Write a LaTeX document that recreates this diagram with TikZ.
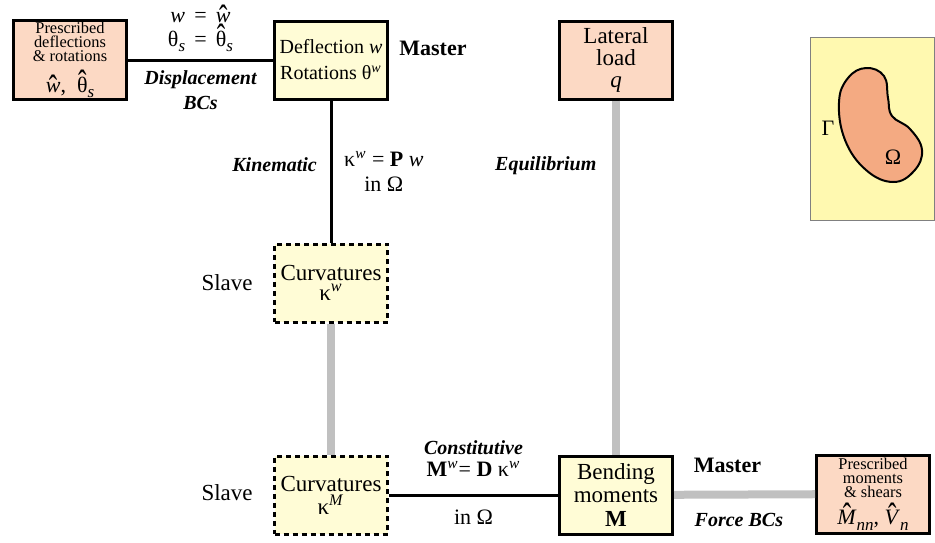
\documentclass[tikz,border=0pt]{standalone}
\usepackage{amsmath}
\usepackage{fontspec}
\setmainfont{Liberation Serif}
\newfontfamily\timesfont{Liberation Serif}
\usepackage{tikz}
\usetikzlibrary{positioning}
\definecolor{givenfill}{RGB}{252,217,196}
\definecolor{varfill}{RGB}{255,252,214}
\definecolor{panelfill}{RGB}{255,249,176}
\definecolor{blobfill}{RGB}{244,170,130}
\definecolor{linkgray}{RGB}{192,192,192}
\tikzstyle{strong}=[line width=1.5pt,color=black]
\tikzstyle{weak}=[line width=4pt,color=linkgray]
% chapeu alto por cima de uma letra
\newcommand{\hatted}[1]{\leavevmode\vbox{\offinterlineskip\halign{\hfil##\hfil\cr\scalebox{1.15}[1.6]{ˆ}\cr\noalign{\kern-0.8em}#1\cr}}}
\newcommand{\sub}[1]{\raisebox{-0.25em}{\fontsize{8.5}{8.5}\selectfont\textit{#1}}}

\begin{document}
\begin{tikzpicture}[x=0.5pt,y=-0.5pt]
    % caixas todas do mesmo tamanho
    \tikzstyle{given}=[draw,line width=1.5pt,fill=givenfill,minimum width=56.5pt,minimum height=39pt,align=center,inner sep=1pt,font=\timesfont\fontsize{8.2}{7}\selectfont]
    \tikzstyle{mastervar}=[draw,line width=1.5pt,fill=varfill,minimum width=56.5pt,minimum height=39pt,align=center,inner sep=1pt,font=\timesfont\fontsize{11.5}{11.5}\selectfont]
    \tikzstyle{slavevar}=[mastervar,dash pattern=on 2.5pt off 2pt]
    \tikzstyle{rel}=[text=black,font=\timesfont\fontsize{10}{12.5}\selectfont\bfseries\itshape,align=center]
    \tikzstyle{eqn}=[text=black,font=\timesfont\fontsize{11}{12.5}\selectfont,align=center]
    \tikzstyle{role}=[font=\timesfont\fontsize{11.5}{13}\selectfont,inner sep=0pt]
    \tikzstyle{rolebf}=[font=\timesfont\fontsize{11}{13}\selectfont\bfseries,inner sep=0pt]

    \useasboundingbox (0,0) rectangle (935,542);

    % caixas
    \node[given] (dispgiven) at (70,60) {Prescribed\\deflections\\\& rotations\\[3pt]{\fontsize{11}{11}\selectfont\hatted{\textit{w}},\ \ \hatted{θ}\sub{s}}};
    \node[mastervar,font=\timesfont\fontsize{10}{13}\selectfont] (defl) at (331,60) {Deflection \textit{w}\\Rotations θ\textsuperscript{\textit{w}}};
    \node[given,font=\timesfont\fontsize{11.5}{11}\selectfont] (load) at (616,60) {Lateral\\load\\\textit{q}};
    \node[slavevar,font=\timesfont\fontsize{11.5}{10}\selectfont] (curvw) at (331,283) {Curvatures\\κ\textsuperscript{\textit{w}}};
    \node[slavevar] (curvm) at (331,495) {Curvatures\\κ\textsuperscript{\textit{M}}};
    \node[mastervar,font=\timesfont\fontsize{11.5}{11.7}\selectfont] (bend) at (616,495) {Bending\\moments\\\textbf{M}};
    \node[given] (forcegiven) at (873,494) {Prescribed\\moments\\\& shears\\[2pt]{\fontsize{11}{11}\selectfont\hatted{\textit{M}}\sub{nn}, \hatted{\textit{V}}\sub{n}}};

    \node[rolebf] (master1) [right=5pt of defl, yshift=6pt] {Master};
    \node[rolebf] (master2) [right=9.75pt of bend, yshift=15pt] {Master};
    \node[role] (slave1) [left=10pt of curvw] {Slave};
    \node[role] (slave2) [left=10pt of curvm, yshift=1pt] {Slave};

    % ligacoes
    \draw[strong] (dispgiven) -- node[eqn, above, font=\timesfont\fontsize{11}{12}\selectfont] {\textit{w} \,=\, \hatted{\textit{w}}\\θ\sub{s} \,=\, \hatted{θ}\sub{s}} node[rel, below, yshift=-1pt] {Displacement\\BCs} (defl);
    \draw[strong] (defl) -- node[rel, left, pos=0.455, xshift=-3pt] {Kinematic} node[eqn, right, xshift=2.5pt] {κ\textsuperscript{\textit{w}} = \textbf{P} \textit{w}\\in Ω} (curvw);
    \draw[weak] (curvw) -- (curvm);
    \draw[strong] (curvm) -- node[eqn, above, yshift=5pt, font=\timesfont\fontsize{11}{11}\selectfont] {{\fontsize{10}{11}\selectfont\bfseries\itshape Constitutive}\\\textbf{M}\textsuperscript{\textit{w}}= \textbf{D} κ\textsuperscript{\textit{w}}} node[eqn, below, yshift=-3.5pt] {in Ω} (bend);
    \draw[weak] (load) -- node[rel, left, pos=0.185, xshift=-4.5pt] {Equilibrium} (bend);
    \draw[weak] (bend) -- node[rel, below, pos=0.46, yshift=-4pt] {Force BCs} (forcegiven);

    % dominio
    \draw[gray, line width=0.5pt, fill=panelfill] (810,37) rectangle (934,220);
    \draw[line width=1pt, fill=blobfill] plot[smooth cycle, tension=0.7] coordinates {(866,68) (884,76) (888,98) (892,116) (910,129) (922,150) (914,171) (893,182) (866,170) (845,140) (839,102) (848,78)};
    \node[eqn] (gamma) at (828,128) {Γ};
    \node[eqn] (omega) at (893,157) {Ω};
\end{tikzpicture}
\end{document}
